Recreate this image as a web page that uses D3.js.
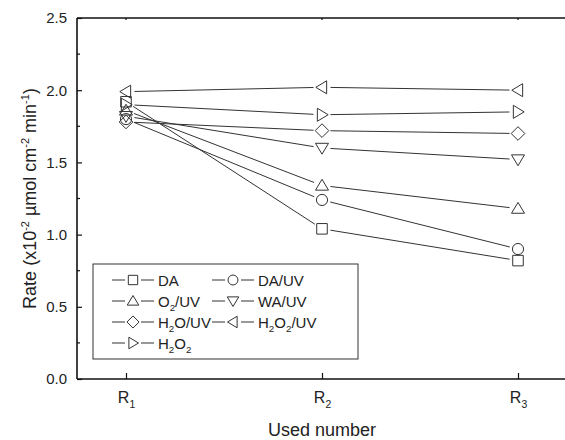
<!DOCTYPE html>
<html><head><meta charset="utf-8">
<script src="https://cdn.jsdelivr.net/npm/d3@7"></script>
<style>body{margin:0;background:#fff}svg{display:block}text{font-family:"Liberation Sans",Arial,sans-serif;fill:#222}</style>
</head><body>
<svg id="c" width="565" height="440"></svg>
<script>
const categories = ["R_1", "R_2", "R_3"];
const seriesNames = ["DA", "DA/UV", "O_2/UV", "WA/UV", "H_2O/UV", "H_2O_2/UV", "H_2O_2"];
const symbols = ["square", "circle", "up", "down", "diamond", "left", "right"];
const DA = [1.92, 1.04, 0.82];
const DA_UV = [1.80, 1.24, 0.90];
const O2_UV = [1.86, 1.34, 1.18];
const WA_UV = [1.82, 1.60, 1.52];
const H2O_UV = [1.78, 1.72, 1.70];
const H2O2_UV = [1.99, 2.02, 2.00];
const H2O2 = [1.90, 1.83, 1.85];
const yTicks = [0.0, 0.5, 1.0, 1.5, 2.0, 2.5];
const seriesValues = [DA, DA_UV, O2_UV, WA_UV, H2O_UV, H2O2_UV, H2O2];

const svg = d3.select("#c");
const L = 77, T = 18, B = 379, R = 567;
const x = d3.scaleLinear().domain([0.75, 3.25]).range([L, R]);
const y = d3.scaleLinear().domain([0, 2.5]).range([B, T]);
const ink = "#333";

function addRich(sel, str, fs) {
  const parts = [];
  for (let i = 0; i < str.length; i++) {
    if (str[i] === "_") { parts.push({t: str[i+1], sub: true}); i++; }
    else {
      if (parts.length && !parts[parts.length-1].sub) parts[parts.length-1].t += str[i];
      else parts.push({t: str[i], sub: false});
    }
  }
  sel.attr("font-size", fs);
  let cur = 0;
  parts.forEach(p => {
    const target = p.sub ? fs * 0.3 : 0;
    const ts = sel.append("tspan").attr("font-size", p.sub ? fs * 0.65 : fs).text(p.t);
    if (target !== cur) { ts.attr("dy", target - cur); cur = target; }
  });
}

function symPath(type, r) {
  switch (type) {
    case "square": { const s = r*0.85; return `M${-s},${-s}H${s}V${s}H${-s}Z`; }
    case "circle": { const c = r*0.9; return `M${c},0A${c},${c} 0 1,1 ${-c},0A${c},${c} 0 1,1 ${c},0Z`; }
    case "up": return `M0,${-r}L${r*1.05},${r*0.75}L${-r*1.05},${r*0.75}Z`;
    case "down": return `M0,${r}L${r*1.05},${-r*0.75}L${-r*1.05},${-r*0.75}Z`;
    case "diamond": { const d = r*1.1; return `M0,${-d}L${d},0L0,${d}L${-d},0Z`; }
    case "left": return `M${-r},0L${r*0.75},${-r*1.05}L${r*0.75},${r*1.05}Z`;
    case "right": return `M${r},0L${-r*0.75},${-r*1.05}L${-r*0.75},${r*1.05}Z`;
  }
}

// axes frame
const ax = svg.append("g").attr("stroke", "#111").attr("stroke-width", 1.6).attr("fill", "none");
ax.append("line").attr("x1", L).attr("x2", R).attr("y1", B).attr("y2", B);
ax.append("line").attr("x1", L).attr("x2", R).attr("y1", T).attr("y2", T);
ax.append("line").attr("x1", L).attr("x2", L).attr("y1", T).attr("y2", B);

// y ticks
const yMinor = d3.range(0.25, 2.5, 0.5);
const yAxis = d3.axisLeft(y).tickValues(yTicks).tickFormat(d3.format(".1f")).tickSizeInner(-5).tickSizeOuter(0).tickPadding(10);
const gy = svg.append("g").attr("transform", `translate(${L},0)`).call(yAxis)
  .attr("font-size", 15).attr("font-family", "Liberation Sans, Arial, sans-serif");
gy.select(".domain").remove();
gy.selectAll(".tick line").attr("stroke", "#111").attr("stroke-width", 1.2);
gy.selectAll(".tick text").attr("fill", "#222");
svg.append("g").selectAll("line").data(yMinor).join("line")
  .attr("x1", L).attr("x2", L + 3).attr("y1", d => y(d)).attr("y2", d => y(d))
  .attr("stroke", "#111").attr("stroke-width", 1.2);

// x ticks
const xAxis = d3.axisBottom(x).tickValues([1, 2, 3]).tickSizeInner(-6).tickSizeOuter(0).tickFormat(() => "");
const gx = svg.append("g").attr("transform", `translate(0,${B})`).call(xAxis)
  .attr("font-size", 15).attr("font-family", "Liberation Sans, Arial, sans-serif");
gx.select(".domain").remove();
gx.selectAll(".tick text").remove();
gx.selectAll(".tick line").attr("stroke", "#111").attr("stroke-width", 1.2);
gx.selectAll(".tick").each(function(d, i) {
  const t = d3.select(this).append("text").attr("y", 24).attr("text-anchor", "middle").attr("fill", "#222");
  addRich(t, categories[i], 16);
});
// top small ticks
svg.append("g").selectAll("line").data([1, 2, 3]).join("line")
  .attr("x1", d => x(d)).attr("x2", d => x(d)).attr("y1", T).attr("y2", T + 2)
  .attr("stroke", "#111").attr("stroke-width", 1.2);

// axis titles
svg.append("text").attr("x", x(2)).attr("y", 436).attr("text-anchor", "middle").attr("font-size", 18).text("Used number");
const yt = svg.append("text").attr("transform", `translate(36,${(T + B) / 2}) rotate(-90)`).attr("text-anchor", "middle").attr("font-size", 18);
yt.append("tspan").text("Rate (x10");
yt.append("tspan").attr("dy", -7).attr("font-size", 11).text("-2");
yt.append("tspan").attr("dy", 7).text(" \u00b5mol cm");
yt.append("tspan").attr("dy", -7).attr("font-size", 11).text("-2");
yt.append("tspan").attr("dy", 7).text(" min");
yt.append("tspan").attr("dy", -7).attr("font-size", 11).text("-1");
yt.append("tspan").attr("dy", 7).text(")");

// series
const mr = 6.2, gap = 8.5;
const gS = svg.append("g");
seriesValues.forEach((vals, si) => {
  const pts = vals.map((v, i) => [x(i + 1), y(v)]);
  for (let i = 0; i < pts.length - 1; i++) {
    const [x1, y1] = pts[i], [x2, y2] = pts[i + 1];
    const dx = x2 - x1, dy = y2 - y1, len = Math.hypot(dx, dy);
    const ux = dx / len, uy = dy / len;
    gS.append("line")
      .attr("x1", x1 + ux * gap).attr("y1", y1 + uy * gap)
      .attr("x2", x2 - ux * gap).attr("y2", y2 - uy * gap)
      .attr("stroke", ink).attr("stroke-width", 1);
  }
});
seriesValues.forEach((vals, si) => {
  gS.append("g").selectAll("path").data(vals).join("path")
    .attr("transform", (v, i) => `translate(${x(i + 1)},${y(v)})`)
    .attr("d", symPath(symbols[si], mr))
    .attr("fill", "none").attr("stroke", ink).attr("stroke-width", 1);
});

// legend
const lg = svg.append("g");
lg.append("rect").attr("x", 93).attr("y", 264).attr("width", 265).attr("height", 95)
  .attr("fill", "#fff").attr("stroke", ink).attr("stroke-width", 1);
seriesNames.forEach((nm, i) => {
  const col = i % 2, row = Math.floor(i / 2);
  const lx = 112 + col * 100, ly = 280 + row * 21;
  lg.append("line").attr("x1", lx).attr("x2", lx + 42).attr("y1", ly).attr("y2", ly).attr("stroke", ink).attr("stroke-width", 1);
  lg.append("rect").attr("x", lx + 13).attr("y", ly - 7).attr("width", 16).attr("height", 14).attr("fill", "#fff");
  lg.append("path").attr("transform", `translate(${lx + 21},${ly})`).attr("d", symPath(symbols[i], 5.5))
    .attr("fill", "#fff").attr("stroke", ink).attr("stroke-width", 1);
  const t = lg.append("text").attr("x", lx + 46).attr("y", ly + 5.5);
  addRich(t, nm, 15);
});
</script>
</body></html>
